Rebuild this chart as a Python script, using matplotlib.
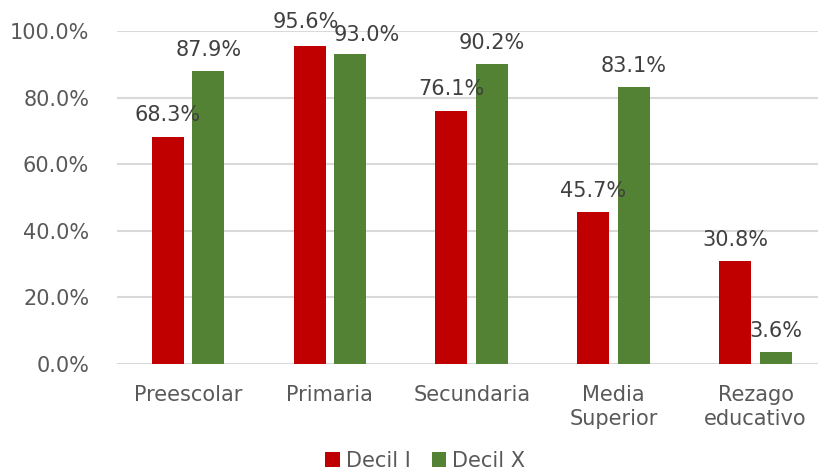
import matplotlib.pyplot as plt
import numpy as np

categorias = ["Preescolar", "Primaria", "Secundaria", "Media\nSuperior", "Rezago\neducativo"]
decil_i = [68.3, 95.6, 76.1, 45.7, 30.8]
decil_x = [87.9, 93.0, 90.2, 83.1, 3.6]
yticks = [0, 20, 40, 60, 80, 100]

plt.rcParams['font.family'] = ['DejaVu Sans']

fig = plt.figure(figsize=(8.18, 4.73), dpi=100)
ax = fig.add_axes([0.143, 0.2304, 0.857, 0.7041])

x = np.arange(len(categorias))
w = 0.225
off = 0.143
b1 = ax.bar(x - off, decil_i, w, color="#C00000", label="Decil I", zorder=3)
b2 = ax.bar(x + off, decil_x, w, color="#548235", label="Decil X", zorder=3)

# desplazamientos para que 95.6% y 93.0% no se encimen
ajustes = {(0, 1): (-3, 10), (1, 1): (12, 7)}

for k, bars in enumerate((b1, b2)):
    for j, rect in enumerate(bars):
        h = rect.get_height()
        dx, dy = ajustes.get((k, j), (0, 8))
        ax.annotate(f"{h:.1f}%", (rect.get_x() + rect.get_width() / 2, h),
                    xytext=(dx, dy), textcoords="offset points", ha="center", va="bottom",
                    fontsize=15, color="#404040", clip_on=False)

ax.set_ylim(0, 100)
ax.set_xlim(-0.5, 4.44)
ax.set_yticks(yticks)
ax.set_yticklabels([f"{v:.1f}%" for v in yticks])
ax.set_xticks(x)
ax.set_xticklabels(categorias, linespacing=1.25)
ax.tick_params(axis="both", length=0, labelsize=15, labelcolor="#595959")
ax.tick_params(axis="x", pad=15)
ax.tick_params(axis="y", pad=20)
ax.grid(axis="y", color="#D9D9D9", linewidth=1.5, zorder=0)
for s in ax.spines.values():
    s.set_visible(False)

fig.legend(loc="lower center", bbox_to_anchor=(0.52, -0.035), ncol=2, frameon=False,
           fontsize=15, handlelength=0.7, handleheight=0.7, handletextpad=0.3,
           columnspacing=1.0, labelcolor="#595959")

fig.savefig("out.png", dpi=100)
